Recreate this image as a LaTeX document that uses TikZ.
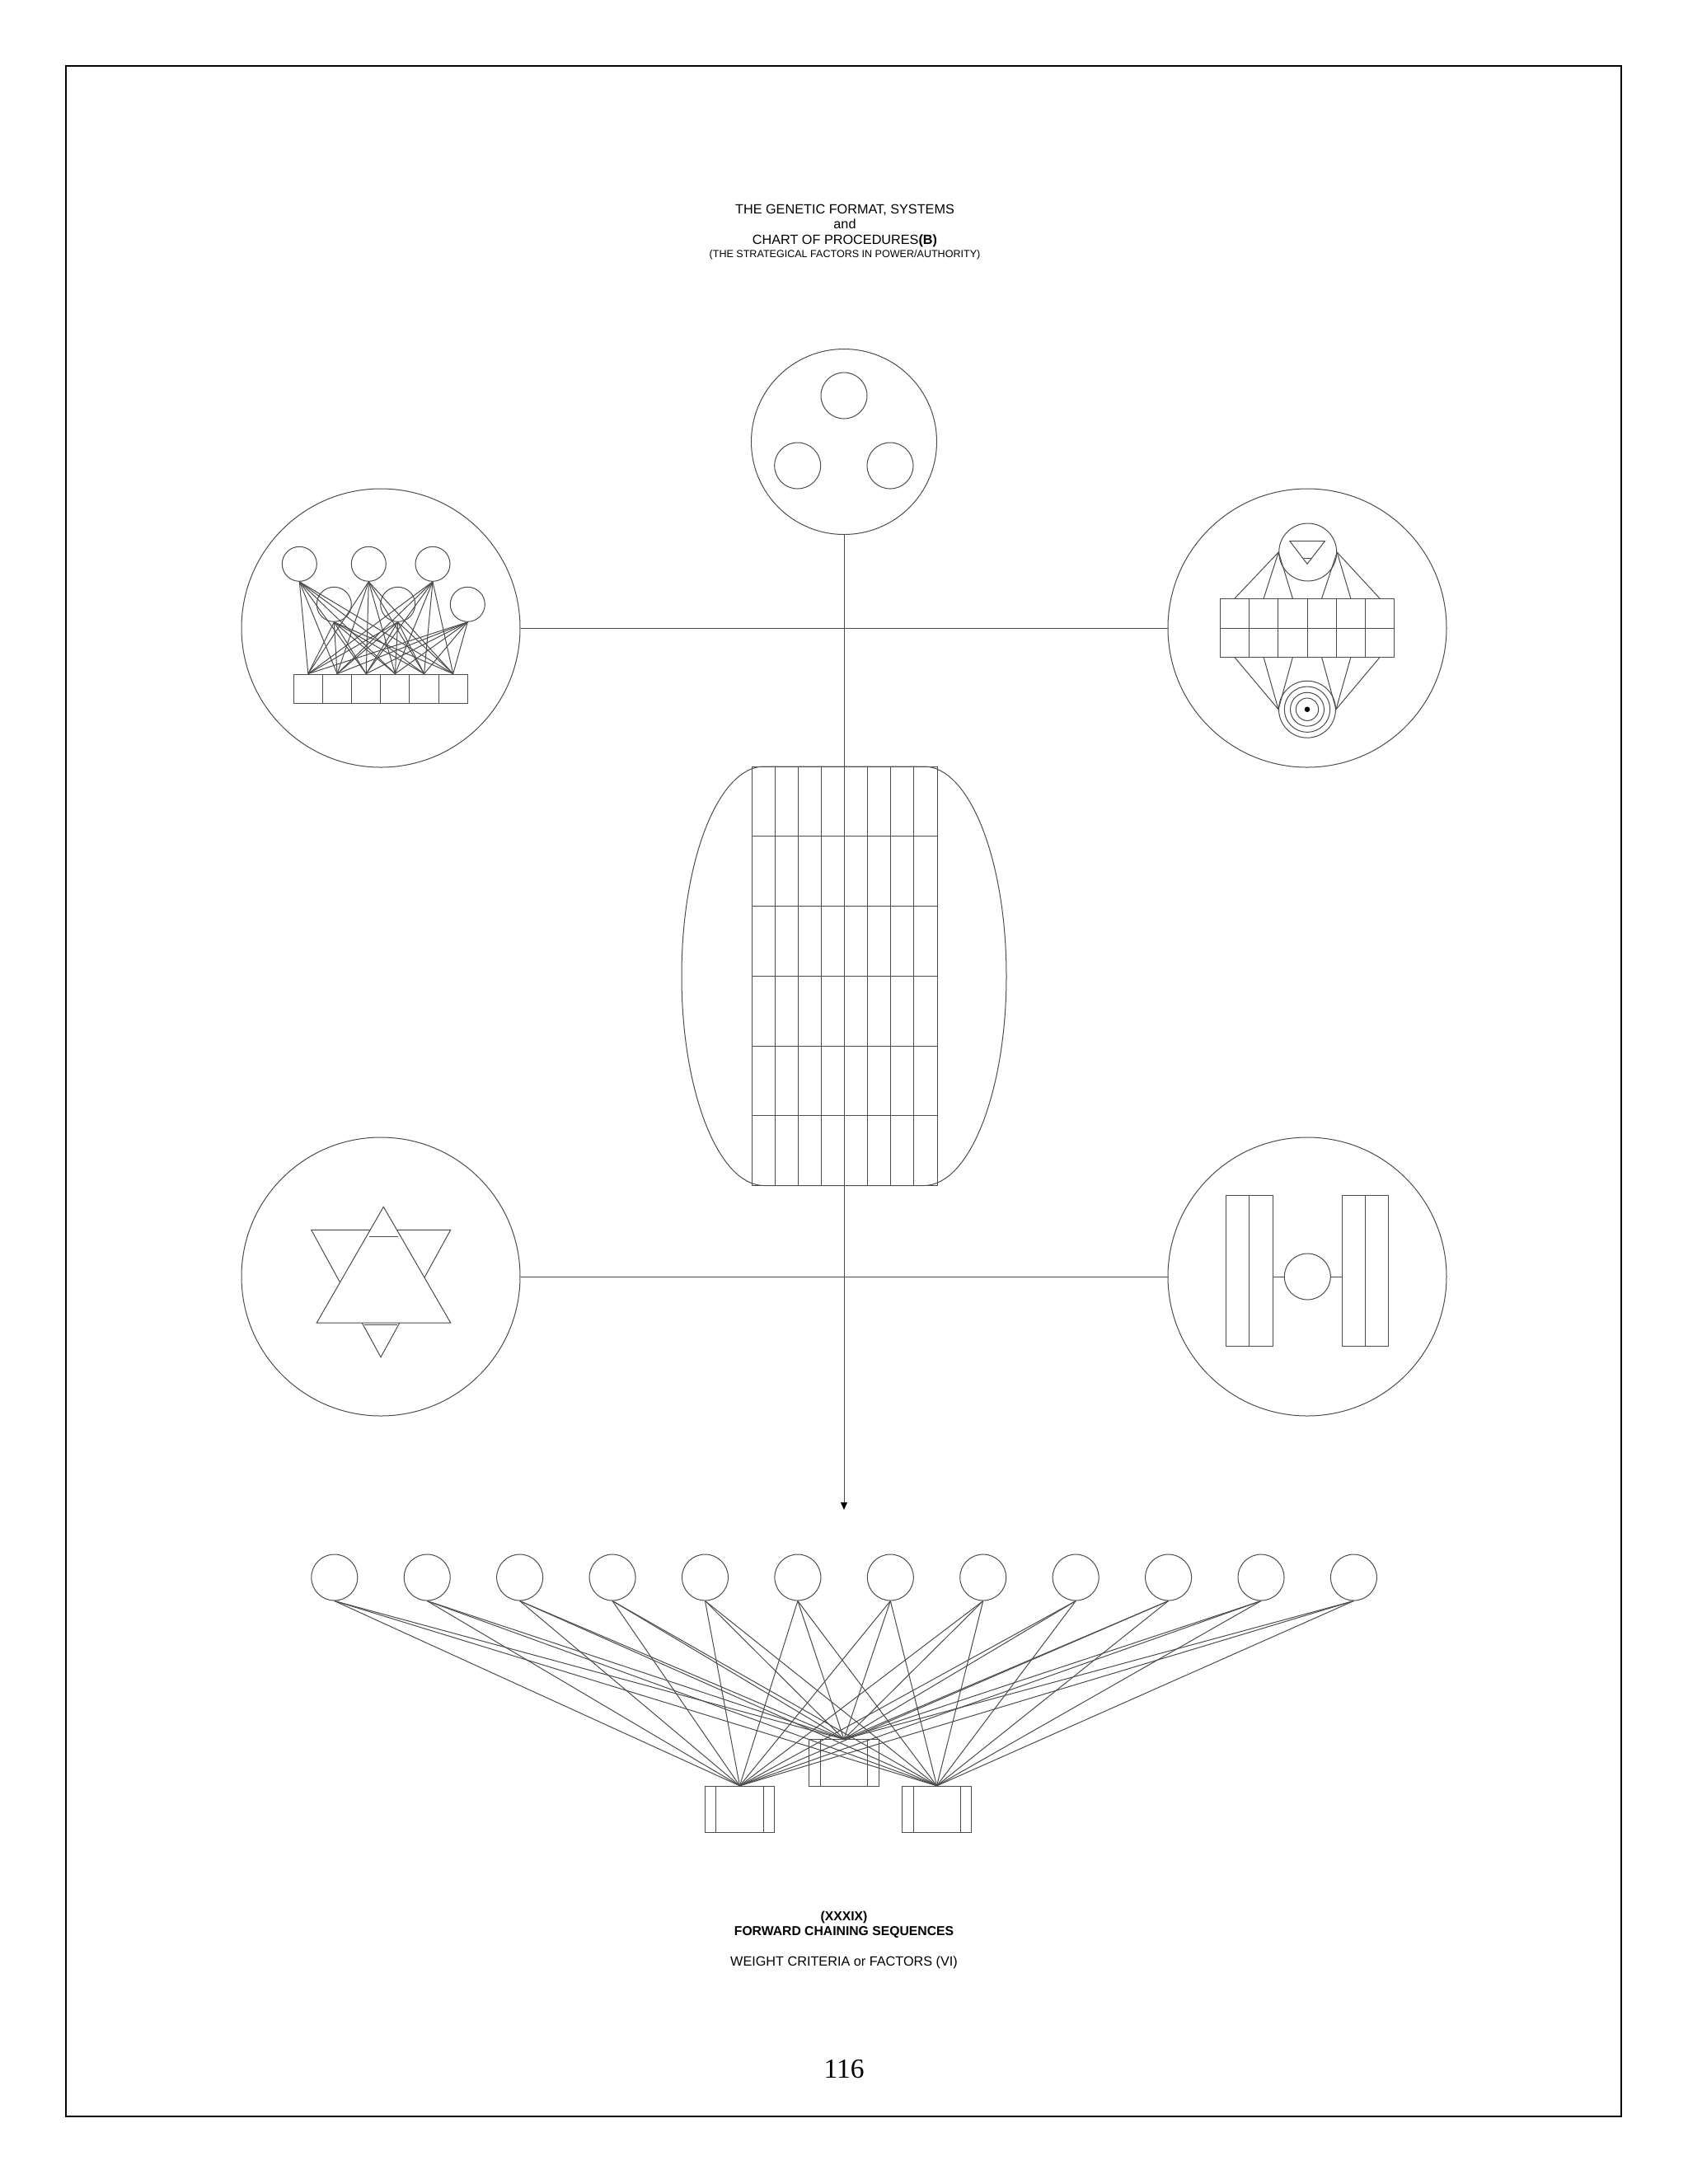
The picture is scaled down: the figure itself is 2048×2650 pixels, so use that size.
\documentclass[tikz,border=0pt]{standalone}
\usepackage{fontspec}
\setmainfont{Liberation Sans}
\newfontfamily\seriffont{Liberation Serif}
\usetikzlibrary{arrows.meta}
\newcommand{\pxu}{0.29883pt}
\tikzset{
  thinline/.style={draw=black!70, line width=0.3pt},
  ring/.style={circle, thinline, inner sep=0pt, minimum size={#1*\pxu}},
  cell/.style 2 args={rectangle, thinline, inner sep=0pt, minimum width={#1*\pxu}, minimum height={#2*\pxu}},
  caption/.style={anchor=base, font=\fontsize{4.85}{6}\selectfont},
}
\begin{document}
\begin{tikzpicture}[x=\pxu, y=-\pxu]
        \useasboundingbox (0,0) rectangle (2048,2650);

        % --- 外枠 ---
        \draw[line width=0.6pt] (80,80) rectangle (1967,2568);

        % --- 表題 ---
        \node[caption] (title1) at (1025,259) {THE GENETIC FORMAT, SYSTEMS};
        \node[caption] (title2) at (1025,277.3) {and};
        \node[caption] (title3) at (1025,296.7) {CHART OF PROCEDURES\textbf{(B)}};
        \node[caption, font=\fontsize{3.75}{4.5}\selectfont] (title4) at (1025,312.5) {(THE STRATEGICAL FACTORS IN POWER/AUTHORITY)};

        % --- 大円 ---
        \node[ring=225] (top) at (1024,536) {};
        \node[ring=338] (ul) at (462,762) {};
        \node[ring=338] (ur) at (1586,762) {};
        \node[ring=338] (ll) at (462,1549) {};
        \node[ring=338] (lr) at (1586,1549) {};

        % --- 上の円: 三つの小円 ---
        \node[ring=56] (t1) at (1024,480) {};
        \node[ring=56] (t2) at (967.7,565) {};
        \node[ring=56] (t3) at (1080,565) {};

        % --- 中央の樽形と格子 ---
        \draw[thinline] (927,930) arc[start angle=270, end angle=90, x radius=100, y radius=254.25]
            -- (1121,1438.5) arc[start angle=90, end angle=-90, x radius=100, y radius=254.25] -- cycle;
        \foreach \k in {0,...,8}
            \draw[thinline] (912+28.125*\k,930) -- (912+28.125*\k,1438.5);
        \foreach \j in {0,...,6}
            \draw[thinline] (912,930+84.75*\j) -- (1137,930+84.75*\j);

        % --- 接続線 ---
        \coordinate (tip) at (1024,1832);
        \draw[thinline, -{Triangle[length=2.7pt, width=2.3pt, color=black]}] (top.south) -- (tip);
        \draw[thinline] (ul.east) -- (ur.west);
        \draw[thinline] (ll.east) -- (lr.west);

        % --- 左上: 六つの円と六つの箱 ---
        \foreach \n/\x/\y in {1/363.3/684.3, 2/447.3/684.3, 3/525/684.3,
                              4/405.3/733.3, 5/482.7/733.3, 6/567.3/733.3}
            \node[ring=42] (a\n) at (\x,\y) {};
        \foreach \i in {1,...,6}
            \node[cell={35.17}{35.3}] (b\i) at (356.3+35.17*\i-17.585, 835.7) {};
        \foreach \i in {1,...,6} {
            \foreach \j in {1,...,6}
                \draw[thinline] (a\i.south) -- (b\j.north);
        }

        % --- 右上: 三角の円, 二段の箱, 同心円 ---
        \node[ring=70] (cap) at (1586.7,670) {};
        \draw[thinline] (1565,656.7) -- (1607.3,656.7) -- (1586,684.3) -- cycle;
        \draw[thinline] (1581.7,677.3) -- (1590.7,677.3);
        \foreach \i in {1,...,6} {
            \node[cell={35.23}{35.3}] (r\i) at (1480.3+35.23*\i-17.615, 744.35) {};
            \node[cell={35.23}{35.0}] (s\i) at (1480.3+35.23*\i-17.615, 779.5) {};
        }
        \node[ring=69] (tgt) at (1586,860.7) {};
        \foreach \d [count=\c] in {55.4, 41, 27.4}
            \node[ring=\d] (tgt\c) at (tgt) {};
        \fill (tgt) circle[radius=3.3];
        \foreach \i in {1,2,3} {
            \draw[thinline] (cap.west) -- (r\i.north);
            \draw[thinline] (s\i.south) -- (tgt.west);
        }
        \foreach \i in {4,5,6} {
            \draw[thinline] (cap.east) -- (r\i.north);
            \draw[thinline] (s\i.south) -- (tgt.east);
        }

        % --- 左下: 六芒星 ---
        \draw[thinline] (377.7,1492.3) -- (546.7,1492.3) -- (462,1646.7) -- cycle;
        \draw[thinline, fill=white] (465.3,1464.3) -- (546.7,1605) -- (384.3,1605) -- cycle;
        \draw[thinline] (447.7,1500.7) -- (482.7,1500.7);
        \draw[thinline] (442,1607.3) -- (482,1607.3);

        % --- 右下: 二組の柱と小円 ---
        \node[cell={28.3}{183}] (p1) at (1501.5,1541.8) {};
        \node[cell={28.3}{183}] (p2) at (1529.85,1541.8) {};
        \node[cell={28.2}{183}] (q1) at (1642.3,1541.8) {};
        \node[cell={28.2}{183}] (q2) at (1670.5,1541.8) {};
        \node[ring=56] (hub) at (1586.3,1549) {};
        \draw[thinline] (hub.west) -- (hub.west -| p2.east);
        \draw[thinline] (hub.east) -- (hub.east -| q1.west);

        % --- 下段: 十二の円と三つの箱 ---
        \foreach \i in {1,...,12}
            \node[ring=56] (f\i) at (405.8+112.42*\i-112.42, 1914) {};
        \node[cell={84.3}{56}] (ba) at (897.5,2195.3) {};
        \node[cell={84.3}{56.6}] (bb) at (1023.9,2139) {};
        \node[cell={84}{56}] (bc) at (1136.6,2195.3) {};
        \foreach \b in {ba,bb,bc} {
            \draw[thinline] ([xshift=14*\pxu]\b.north west) -- ([xshift=14*\pxu]\b.south west);
            \draw[thinline] ([xshift=-14*\pxu]\b.north east) -- ([xshift=-14*\pxu]\b.south east);
        }
        \foreach \i in {1,...,12} {
            \foreach \b in {ba,bb,bc}
                \draw[thinline] (f\i.south) -- (\b.north);
        }

        % --- 下の文字 ---
        \node[caption, font=\bfseries\fontsize{4.7}{6}\selectfont] (num) at (1024,2330) {(XXXIX)};
        \node[caption, font=\bfseries\fontsize{4.7}{6}\selectfont] (seq) at (1024,2348.3) {FORWARD CHAINING SEQUENCES};
        \node[caption] (crit) at (1024,2385.7) {WEIGHT CRITERIA or FACTORS (VI)};
        \node[caption, font=\seriffont\fontsize{10}{12}\selectfont] (page) at (1024,2521.7) {116};

    \end{tikzpicture}
\end{document}
